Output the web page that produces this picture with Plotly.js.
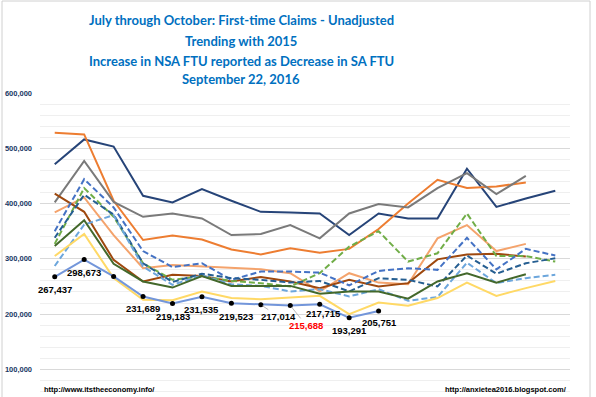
<!DOCTYPE html>
<html><head><meta charset="utf-8">
<script src="https://cdn.plot.ly/plotly-3.0.1.min.js"></script>
<style>html,body{margin:0;padding:0;background:#fff}#chart{width:596px;height:397px}</style>
</head><body><div id="chart"></div>
<script>
// Week index (July through October)
const weeks = [1,2,3,4,5,6,7,8,9,10,11,12,13,14,15,16,17,18];

// Prior-year series (first-time claims, NSA)
const seriesNavy      = [471000,516000,503000,414000,402000,426000,405000,385000,384000,382000,343000,382000,373000,373000,463000,394000,409000,423000];
const seriesOrange    = [528000,525000,405000,334000,342000,335000,317000,308000,319000,311000,318000,354000,400000,443000,428000,431000,438000];
const seriesGray      = [402000,477000,403000,376000,382000,373000,343000,345000,361000,337000,382000,399000,393000,428000,455000,417000,450000];
const seriesBrown     = [418000,385000,298000,259000,271000,269000,259000,267000,259000,247000,262000,250000,256000,299000,308000,309000,304000];
const seriesLtOrange  = [384000,411000,343000,283000,289000,286000,284000,281000,274000,241000,274000,257000,254000,337000,361000,314000,327000];
const seriesBlueDash  = [350000,444000,393000,314000,285000,292000,262000,277000,277000,275000,252000,278000,283000,280000,338000,281000,318000,306000];
const seriesDkBlueDash= [338000,416000,380000,292000,258000,273000,265000,262000,257000,260000,241000,265000,262000,250000,306000,273000,292000,301000];
const seriesGreenDash = [327000,428000,376000,292000,262000,268000,260000,256000,250000,274000,322000,350000,295000,310000,382000,305000,305000,295000];
const seriesLtBlueDash= [287000,362000,379000,286000,253000,270000,254000,251000,241000,245000,232000,245000,224000,231000,293000,256000,265000,271000];
const seriesDkGreen   = [323000,370000,291000,259000,248000,269000,251000,251000,251000,237000,241000,241000,228000,259000,274000,257000,272000];
const seriesYellow    = [305000,345000,265000,226000,225000,241000,229000,227000,230000,233000,200000,221000,215000,229000,257000,233000,247000,260000];
// 2016
const series2016      = [267437,298673,268200,231689,219183,231535,219523,217014,215688,217715,193291,205751];
const labeled2016     = [0,1,3,4,5,6,7,8,9,10,11];

const titleLines = [
  'July through October: First-time Claims - Unadjusted',
  'Trending with 2015',
  'Increase in NSA FTU reported as Decrease in SA FTU',
  'September 22, 2016'
];
const footLeft = 'http://www.itstheeconomy.info/';
const footRight = 'http://anxietea2016.blogspot.com/';

function tr(y, color, dash, name){
  return {x: weeks.slice(0, y.length), y: y, type:'scatter', mode:'lines', name: name,
    line:{color: color, width: 2, dash: dash || 'solid'}, hoverinfo:'skip'};
}
const DASH = '6px,3px';
const traces = [
  tr(seriesNavy, '#264478', null, 'navy'),
  tr(seriesOrange, '#ED7D31', null, 'orange'),
  tr(seriesGray, '#7A7A7A', null, 'gray'),
  tr(seriesLtOrange, '#F4A36C', null, 'light orange'),
  tr(seriesBrown, '#9E480E', null, 'brown'),
  tr(seriesGreenDash, '#70AD47', DASH, 'green dash'),
  tr(seriesBlueDash, '#4472C4', DASH, 'blue dash'),
  tr(seriesDkBlueDash, '#255E91', DASH, 'dark blue dash'),
  tr(seriesLtBlueDash, '#6CA6DC', DASH, 'light blue dash'),
  tr(seriesDkGreen, '#43682B', null, 'dark green'),
  tr(seriesYellow, '#FFD966', null, 'yellow'),
  {x: weeks.slice(0, series2016.length), y: series2016, type:'scatter', mode:'lines+markers', name:'2016',
   line:{color:'#7396DA', width:2}, marker:{color:'#000000', size:5}, hoverinfo:'skip'}
];

// label placement (pixel offsets) for 2016 data labels
const labelStyle = {
  0:{xs:0,ys:-13}, 1:{xs:0,ys:-13}, 3:{xs:0,ys:-12}, 4:{xs:0,ys:-13}, 5:{xs:0,ys:-13},
  6:{xs:5,ys:-13}, 7:{ax:18,ay:12}, 8:{ax:16,ay:20,red:true}, 9:{xs:4,ys:-9},
  10:{xs:0,ys:-13}, 11:{xs:1,ys:-12}
};
const annotations = [];
labeled2016.forEach(i => {
  const s = labelStyle[i];
  const a = {x: weeks[i], y: series2016[i], xref:'x', yref:'y',
    text: series2016[i].toLocaleString('en-US'),
    font:{family:'Liberation Sans, Arial, sans-serif', size:9.5, color: s.red ? '#FF0000' : '#000000', weight:'bold'}};
  if (s.ax !== undefined) {
    Object.assign(a, {showarrow:true, arrowhead:0, arrowwidth:0.8, arrowcolor:'#A6A6A6', ax:s.ax, ay:s.ay, standoff:2});
  } else {
    Object.assign(a, {showarrow:false, xshift:s.xs, yshift:s.ys});
  }
  annotations.push(a);
});
const titleY = [1.24, 1.171, 1.105, 1.046];
titleLines.forEach((t, k) => annotations.push({
  text: t, xref:'paper', yref:'paper', x: (241-40)/530, y: titleY[k], xanchor:'center', yanchor:'middle',
  showarrow:false, font:{family:'Lato, Open Sans, sans-serif', size:13, color:'#0070C0', weight:'bold'}
}));
annotations.push({text: footLeft, xref:'paper', yref:'paper', x:(42-40)/530, y:(397-389)/304, xanchor:'left', yanchor:'middle',
  showarrow:false, font:{family:'Liberation Sans, Arial, sans-serif', size:7.5, color:'#000', weight:'bold'}});
annotations.push({text: footRight, xref:'paper', yref:'paper', x:(569-40)/530, y:(397-389)/304, xanchor:'right', yanchor:'middle',
  showarrow:false, font:{family:'Liberation Sans, Arial, sans-serif', size:7.5, color:'#000', weight:'bold'}});

const layout = {
  width:596, height:397,
  margin:{l:40, r:26, t:93, b:0, pad:0},
  paper_bgcolor:'#ffffff', plot_bgcolor:'#ffffff',
  showlegend:false,
  xaxis:{range:[0.5, 18.5], showticklabels:false, showgrid:false, zeroline:false, showline:false, ticks:''},
  yaxis:{range:[50000, 600000], dtick:100000, tick0:0, tickformat:',d', showgrid:true, gridcolor:'#D9D9D9', gridwidth:1,
    zeroline:false, showline:false, ticks:'', ticklabelstandoff:7,
    tickfont:{family:'Liberation Sans, Arial, sans-serif', size:7.5, color:'#203864', weight:'bold'},
    minor:{dtick:20000, tick0:0, showgrid:true, gridcolor:'#EFEFEF', gridwidth:1}},
  annotations: annotations,
  shapes:[{type:'rect', xref:'paper', yref:'paper', x0:(2-40)/530, x1:(590-40)/530, y0:-0.01, y1:1+(93-1)/304,
    line:{color:'#D0D0D0', width:1}, fillcolor:'rgba(0,0,0,0)', layer:'below'}]
};
Plotly.newPlot('chart', traces, layout, {staticPlot:true, displayModeBar:false});
</script>
</body></html>
